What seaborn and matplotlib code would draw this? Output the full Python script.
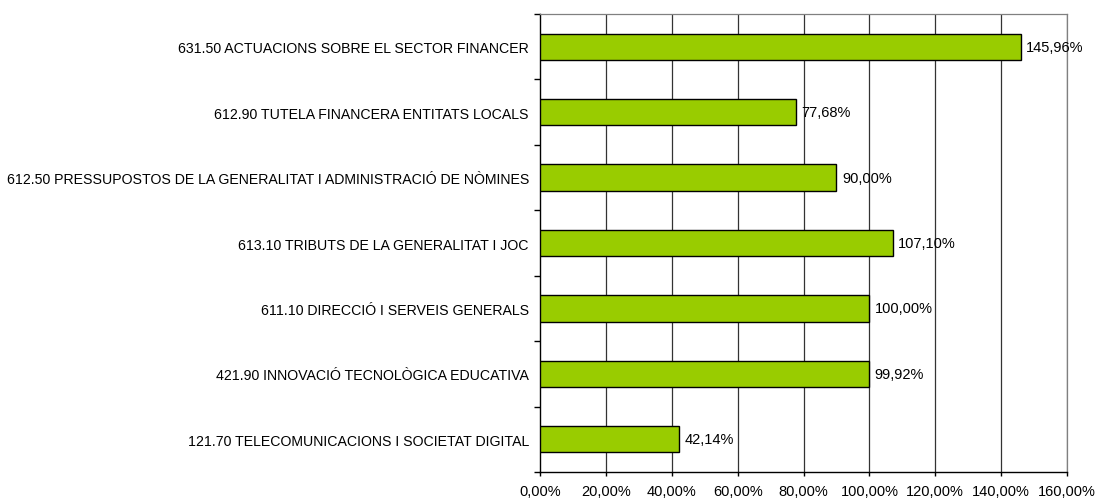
import pandas as pd
import numpy as np
import matplotlib.pyplot as plt
import seaborn as sns
from matplotlib.ticker import FixedLocator, FuncFormatter

# =========================
# DATA
# =========================
programes = [
    "631.50 ACTUACIONS SOBRE EL SECTOR FINANCER",
    "612.90 TUTELA FINANCERA ENTITATS LOCALS",
    "612.50 PRESSUPOSTOS DE LA GENERALITAT I ADMINISTRACIÓ DE NÒMINES",
    "613.10 TRIBUTS DE LA GENERALITAT I JOC",
    "611.10 DIRECCIÓ I SERVEIS GENERALS",
    "421.90 INNOVACIÓ TECNOLÒGICA EDUCATIVA",
    "121.70 TELECOMUNICACIONS I SOCIETAT DIGITAL",
]
percentatges = [145.96, 77.68, 90.00, 107.10, 100.00, 99.92, 42.14]
xticks = [0, 20, 40, 60, 80, 100, 120, 140, 160]

df = pd.DataFrame({"programa": programes, "pct": percentatges})

sns.set_style("white")
plt.rcParams['font.family'] = ['Liberation Sans', 'DejaVu Sans']
plt.rcParams['font.size'] = 10
plt.rcParams['text.color'] = 'black'
plt.rcParams['xtick.color'] = 'black'
plt.rcParams['ytick.color'] = 'black'

fig = plt.figure(figsize=(10.98, 5.02), dpi=100)
ax = fig.add_axes([540 / 1098, 1 - 473 / 502, 527 / 1098, 458 / 502])

sns.barplot(data=df, y="programa", x="pct", orient="h", width=0.4,
            color="#99CC00", edgecolor="black", linewidth=1, saturation=1,
            ax=ax, zorder=3)

ax.set_xlim(0, 160)
ax.set_ylim(len(programes) - 0.5, -0.5)
ax.set_xticks(xticks)
ax.xaxis.set_major_formatter(FuncFormatter(lambda v, p: f"{v:.2f}".replace(".", ",") + "%"))
ax.set_xlabel("")
ax.set_ylabel("")

# vertical grid
for x in xticks[1:]:
    ax.axvline(x, color="#333333", lw=0.9, zorder=1)

# spines
for s in ["top", "right"]:
    ax.spines[s].set_color("#808080")
    ax.spines[s].set_linewidth(0.9)
for s in ["left", "bottom"]:
    ax.spines[s].set_color("black")
    ax.spines[s].set_linewidth(1)

ax.tick_params(axis="x", direction="out", length=3, width=1, pad=6, bottom=True, labelsize=10.5)
ax.tick_params(axis="y", which="major", length=0, pad=8, labelsize=10.2)
ax.yaxis.set_minor_locator(FixedLocator(np.arange(-0.5, len(programes), 1)))
ax.tick_params(axis="y", which="minor", direction="out", length=4, width=1, left=True)

labels = [f"{v:.2f}".replace(".", ",") + "%" for v in percentatges]
ax.bar_label(ax.containers[0], labels=labels, padding=4, fontsize=10.5, zorder=4)

plt.savefig("out.png", dpi=100)
